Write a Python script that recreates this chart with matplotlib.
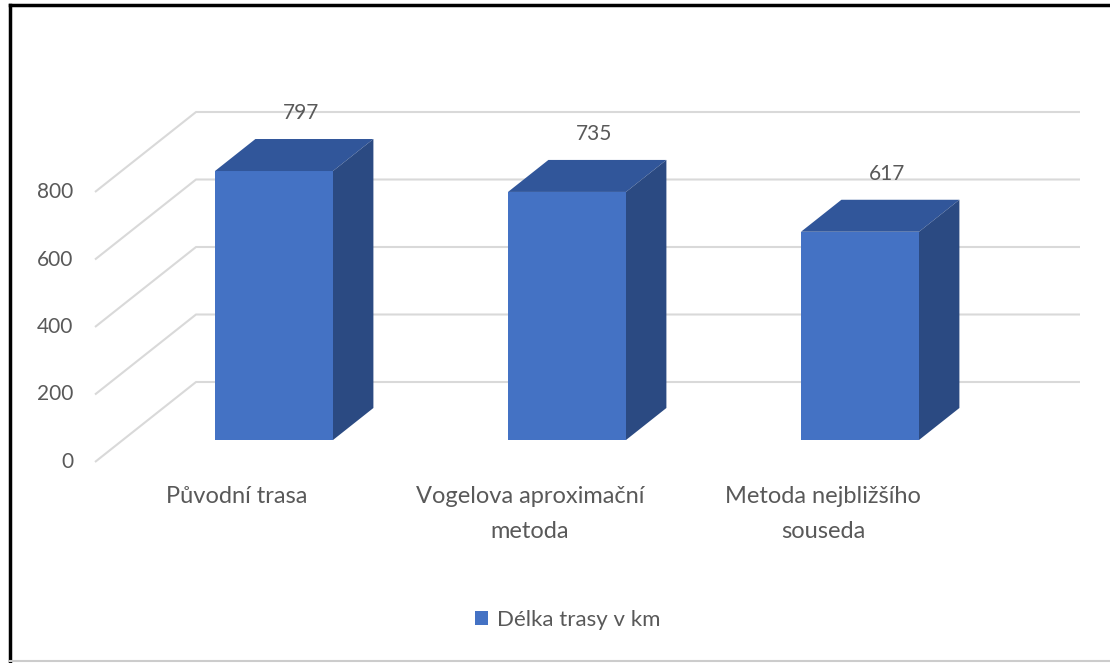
import matplotlib
matplotlib.use('agg')
import matplotlib.pyplot as plt
from matplotlib.patches import Polygon, Patch
from matplotlib.lines import Line2D

categories = ['Původní trasa', 'Vogelova aproximační\nmetoda', 'Metoda nejbližšího\nsouseda']
values = [797, 735, 617]
yticks = [0, 200, 400, 600, 800]
series_name = 'Délka trasy v km'

# excel-like 3d layout, measured in pixels of the original picture
W, H = 1110, 663
px_x = 293.0     # pixels per category
px_y = 0.3375    # pixels per value unit
x0_px = 237      # first category centre
y0_px = 462      # value 0 at the front floor edge

plt.rcParams['font.family'] = ['Lato', 'DejaVu Sans']
txt = '#595959'
front_c = '#4472C4'
top_c = '#31569A'
side_c = '#2B4A82'
grid_c = '#D9D9D9'

fig = plt.figure(figsize=(W / 100, H / 100), dpi=100)
ax = fig.add_axes([0, 0, 1, 1])
ax.set_xlim(-x0_px / px_x, (W - x0_px) / px_x)
ax.set_ylim((y0_px - H) / px_y, y0_px / px_y)
ax.axis('off')

# depth of the floor and of the bars
ddx = 101 / px_x
ddy = 80 / px_y
grid_x0 = (95 - x0_px) / px_x
grid_x1 = (1080 - x0_px) / px_x

for t in yticks:
    ax.plot([grid_x0, grid_x0 + ddx, grid_x1], [t, t + ddy, t + ddy],
            color=grid_c, lw=1.5, zorder=1, solid_capstyle='butt')
    ax.text((73 - x0_px) / px_x, t, str(t), ha='right', va='center',
            fontsize=15, color=txt)

bar_off = -22 / px_x
bar_w = 118 / px_x
f0, f1 = 0.275, 0.675
bdx = (f1 - f0) * ddx
bdy = (f1 - f0) * ddy

for i, v in enumerate(values):
    xl = i + bar_off
    xr = xl + bar_w
    yb = f0 * ddy
    yt = yb + v
    ax.add_patch(Polygon([(xl, yb), (xr, yb), (xr, yt), (xl, yt)],
                         closed=True, fc=front_c, ec='none', zorder=3))
    ax.add_patch(Polygon([(xl, yt), (xr, yt), (xr + bdx, yt + bdy), (xl + bdx, yt + bdy)],
                         closed=True, fc=top_c, ec='none', zorder=3))
    ax.add_patch(Polygon([(xr, yb), (xr + bdx, yb + bdy), (xr + bdx, yt + bdy), (xr, yt)],
                         closed=True, fc=side_c, ec='none', zorder=3))
    ax.text((xl + xr) / 2 + bdx / 2 + 7 / px_x, yt + bdy + 26 / px_y, str(v),
            ha='center', va='center', fontsize=15, color=txt, zorder=4)

for i, c in enumerate(categories):
    ax.text(i, (y0_px - 486) / px_y, c, ha='center', va='top', fontsize=17,
            color=txt, linespacing=1.85)

fig.legend(handles=[Patch(fc=front_c, ec='none', label=series_name)],
           loc='center', bbox_to_anchor=(568 / W, 1 - 620 / H), frameon=False,
           fontsize=16, handlelength=0.6, handleheight=0.6, handletextpad=0.4,
           labelcolor=txt)

# outer frame of the screenshot
fig.add_artist(Line2D([10 / W, 10 / W], [0, 1 - 5 / H], color='black', lw=2.5))
fig.add_artist(Line2D([10 / W, 1], [1 - 5 / H, 1 - 5 / H], color='black', lw=2.5))
fig.add_artist(Line2D([10 / W, 1], [1 - 661 / H, 1 - 661 / H], color='#CCCCCC', lw=1.5))

fig.savefig('out.png', dpi=100)
